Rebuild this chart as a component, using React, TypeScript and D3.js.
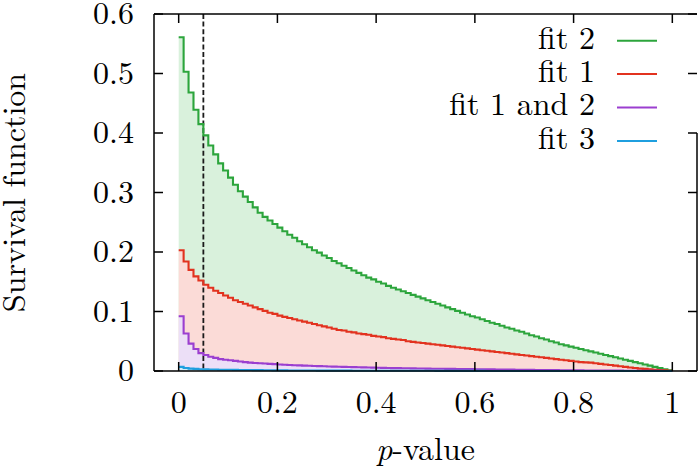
import React from "react";
import * as d3 from "d3";

// survival function per p-value bin (bin width 0.01, bins start at 0)
const binWidth = 0.01;

const fit2 = [
  0.561, 0.503, 0.468, 0.439, 0.415, 0.396, 0.379, 0.364, 0.349, 0.337,
  0.325, 0.313, 0.302, 0.293, 0.284, 0.275, 0.266, 0.259, 0.253, 0.247,
  0.241, 0.235, 0.229, 0.224, 0.218, 0.213, 0.208, 0.203, 0.199, 0.194,
  0.19, 0.185, 0.181, 0.177, 0.173, 0.169, 0.165, 0.161, 0.157, 0.154,
  0.15, 0.147, 0.143, 0.14, 0.137, 0.134, 0.131, 0.128, 0.125, 0.122,
  0.119, 0.116, 0.113, 0.11, 0.107, 0.104, 0.101, 0.098, 0.095, 0.092,
  0.09, 0.087, 0.084, 0.081, 0.079, 0.076, 0.073, 0.071, 0.068, 0.066,
  0.063, 0.06, 0.058, 0.055, 0.053, 0.05, 0.048, 0.045, 0.043, 0.041,
  0.039, 0.037, 0.035, 0.033, 0.031, 0.029, 0.027, 0.025, 0.023, 0.021,
  0.019, 0.017, 0.015, 0.013, 0.011, 0.009, 0.007, 0.005, 0.003, 0.001,
];

const fit1 = [
  0.203, 0.184, 0.17, 0.159, 0.152, 0.145, 0.14, 0.135, 0.131, 0.127,
  0.123, 0.119, 0.116, 0.113, 0.11, 0.107, 0.104, 0.101, 0.098, 0.096,
  0.093, 0.091, 0.089, 0.087, 0.085, 0.083, 0.081, 0.079, 0.077, 0.075,
  0.073, 0.071, 0.069, 0.068, 0.066, 0.065, 0.063, 0.062, 0.061, 0.059,
  0.058, 0.057, 0.055, 0.054, 0.053, 0.052, 0.05, 0.049, 0.048, 0.047,
  0.046, 0.045, 0.044, 0.043, 0.042, 0.041, 0.04, 0.039, 0.038, 0.037,
  0.036, 0.035, 0.034, 0.033, 0.032, 0.031, 0.03, 0.029, 0.028, 0.027,
  0.026, 0.025, 0.024, 0.023, 0.022, 0.021, 0.02, 0.019, 0.018, 0.017,
  0.016, 0.015, 0.0145, 0.014, 0.013, 0.012, 0.011, 0.01, 0.009, 0.008,
  0.007, 0.006, 0.005, 0.004, 0.0035, 0.003, 0.002, 0.0015, 0.001, 0.0005,
];

const fit12 = [
  0.092, 0.063, 0.046, 0.037, 0.03, 0.027, 0.024, 0.022, 0.02, 0.019,
  0.018, 0.017, 0.016, 0.015, 0.014, 0.0135, 0.013, 0.0125, 0.012, 0.0115,
  0.011, 0.0105, 0.01, 0.0097, 0.0094, 0.0091, 0.0088, 0.0085, 0.0082, 0.0079,
  0.0076, 0.0073, 0.0071, 0.0069, 0.0067, 0.0065, 0.0063, 0.0061, 0.0059, 0.0057,
  0.0055, 0.0053, 0.0051, 0.0049, 0.0048, 0.0047, 0.0045, 0.0044, 0.0043, 0.0042,
  0.004, 0.0039, 0.0038, 0.0037, 0.0036, 0.0035, 0.0034, 0.0033, 0.0032, 0.0031,
  0.003, 0.0029, 0.0028, 0.0027, 0.0026, 0.0025, 0.0024, 0.0023, 0.0022, 0.0021,
  0.002, 0.0019, 0.0018, 0.0017, 0.0016, 0.0015, 0.0014, 0.0013, 0.0012, 0.0011,
  0.001, 0.001, 0.0009, 0.0009, 0.0008, 0.0008, 0.0007, 0.0007, 0.0006, 0.0006,
  0.0005, 0.0005, 0.0004, 0.0004, 0.0003, 0.0003, 0.0002, 0.0002, 0.0001, 0.0001,
];

const fit3 = [
  0.007, 0.005, 0.004, 0.0035, 0.003, 0.0028, 0.0026, 0.0024, 0.0022, 0.0021,
  0.002, 0.0019, 0.0018, 0.0017, 0.0016, 0.0015, 0.0014, 0.0013, 0.0012, 0.0011,
  0.001, 0.001, 0.0009, 0.0009, 0.0009, 0.0008, 0.0008, 0.0008, 0.0007, 0.0007,
  0.0007, 0.0006, 0.0006, 0.0006, 0.0006, 0.0005, 0.0005, 0.0005, 0.0005, 0.0005,
  0.0004, 0.0004, 0.0004, 0.0004, 0.0004, 0.0003, 0.0003, 0.0003, 0.0003, 0.0003,
  0.0003, 0.0003, 0.0002, 0.0002, 0.0002, 0.0002, 0.0002, 0.0002, 0.0002, 0.0002,
  0.0002, 0.0002, 0.0001, 0.0001, 0.0001, 0.0001, 0.0001, 0.0001, 0.0001, 0.0001,
  0.0001, 0.0001, 0.0001, 0.0001, 0.0001, 0.0001, 0.0001, 0.0001, 0.0001, 0.0001,
  0, 0, 0, 0, 0, 0, 0, 0, 0, 0,
  0, 0, 0, 0, 0, 0, 0, 0, 0, 0,
];

const seriesLabels = ["fit 2", "fit 1", "fit 1 and 2", "fit 3"];
const seriesValues = [fit2, fit1, fit12, fit3];
const xTicks = [0, 0.2, 0.4, 0.6, 0.8, 1];
const yTicks = [0, 0.1, 0.2, 0.3, 0.4, 0.5, 0.6];
const cutoff = 0.05;

const lineColors = ["#2ca53c", "#e2321f", "#9b3fd0", "#1f9fdf"];
const fillColors = ["#d9f1dc", "#fbdbd7", "#ecdff7", "#d3ecf8"];

const width = 700;
const height = 471;
const left = 154, right = 697, top = 14, bottom = 371;
const fontFamily = "'Latin Modern Roman', 'Liberation Serif', serif";
const tickLen = 9;

const x = d3.scaleLinear().domain([-0.05, 1.05]).range([left, right]);
const y = d3.scaleLinear().domain([0, 0.6]).range([bottom, top]);
const fmt = d3.format("~g");

type Pt = [number, number];
const toPoints = (vals: number[], end: number): Pt[] => {
  const pts = vals.map((v, i) => [i * binWidth, v] as Pt);
  pts.push([vals.length * binWidth, end]);
  return pts;
};
const area = d3
  .area<Pt>()
  .curve(d3.curveStepAfter)
  .x((d) => x(d[0]))
  .y0(y(0))
  .y1((d) => y(d[1]));
const line = d3
  .line<Pt>()
  .curve(d3.curveStepAfter)
  .x((d) => x(d[0]))
  .y((d) => y(d[1]));

const App = () => {
  const textStyle = { fontFamily, fontSize: 32 };
  return (
    <div style={{ position: "absolute", left: 0, top: 0 }}>
      <svg width={width} height={height} style={{ display: "block", background: "#fff" }}>
        {/* fills */}
        {seriesValues.map((vals, i) => (
          <path key={"f" + i} d={area(toPoints(vals, 0)) || ""} fill={fillColors[i]} />
        ))}
        {/* dashed cut line */}
        <line
          x1={x(cutoff)}
          x2={x(cutoff)}
          y1={top}
          y2={bottom}
          stroke="#1a1a1a"
          strokeWidth={1.8}
          strokeDasharray="5,2.6"
        />
        {/* step lines */}
        {seriesValues.map((vals, i) => (
          <path
            key={"l" + i}
            d={line(toPoints(vals, vals[vals.length - 1])) || ""}
            fill="none"
            stroke={lineColors[i]}
            strokeWidth={2.1}
          />
        ))}
        {/* frame: right side hidden behind the opaque key near the top */}
        <g stroke="#000" strokeWidth={1.5}>
          <line x1={left} x2={left} y1={top} y2={bottom} />
          <line x1={left} x2={right} y1={bottom} y2={bottom} />
          <line x1={left} x2={right} y1={top} y2={top} />
          <line x1={right} x2={right} y1={133} y2={bottom} />
          {xTicks.map((t) => (
            <g key={"xt" + t}>
              <line x1={x(t)} x2={x(t)} y1={bottom} y2={bottom - tickLen} />
              <line x1={x(t)} x2={x(t)} y1={top} y2={top + tickLen} />
            </g>
          ))}
          {yTicks.map((t) => (
            <g key={"yt" + t}>
              <line x1={left} x2={left + tickLen} y1={y(t)} y2={y(t)} />
              <line x1={right} x2={right - tickLen} y1={y(t)} y2={y(t)} />
            </g>
          ))}
        </g>
        {/* tick labels */}
        <g style={textStyle} fill="#000">
          {xTicks.map((t) => (
            <text key={"xl" + t} x={x(t)} y={413} textAnchor="middle">
              {fmt(t)}
            </text>
          ))}
          {yTicks.map((t) => (
            <text key={"yl" + t} x={134} y={y(t) + 10} textAnchor="end">
              {fmt(t)}
            </text>
          ))}
          <text
            transform={`translate(25, ${(top + bottom) / 2}) rotate(-90)`}
            textAnchor="middle"
          >
            Survival function
          </text>
          <text x={(left + right) / 2} y={460} textAnchor="middle">
            <tspan fontStyle="italic">p</tspan>-value
          </text>
          {/* key */}
          {seriesLabels.map((label, i) => (
            <g key={label}>
              <text x={595} y={48.5 + i * 33.4} textAnchor="end">
                {label}
              </text>
              <line
                x1={617}
                x2={657}
                y1={40.7 + i * 33.4}
                y2={40.7 + i * 33.4}
                stroke={lineColors[i]}
                strokeWidth={2}
              />
            </g>
          ))}
        </g>
      </svg>
    </div>
  );
};

export default App;
